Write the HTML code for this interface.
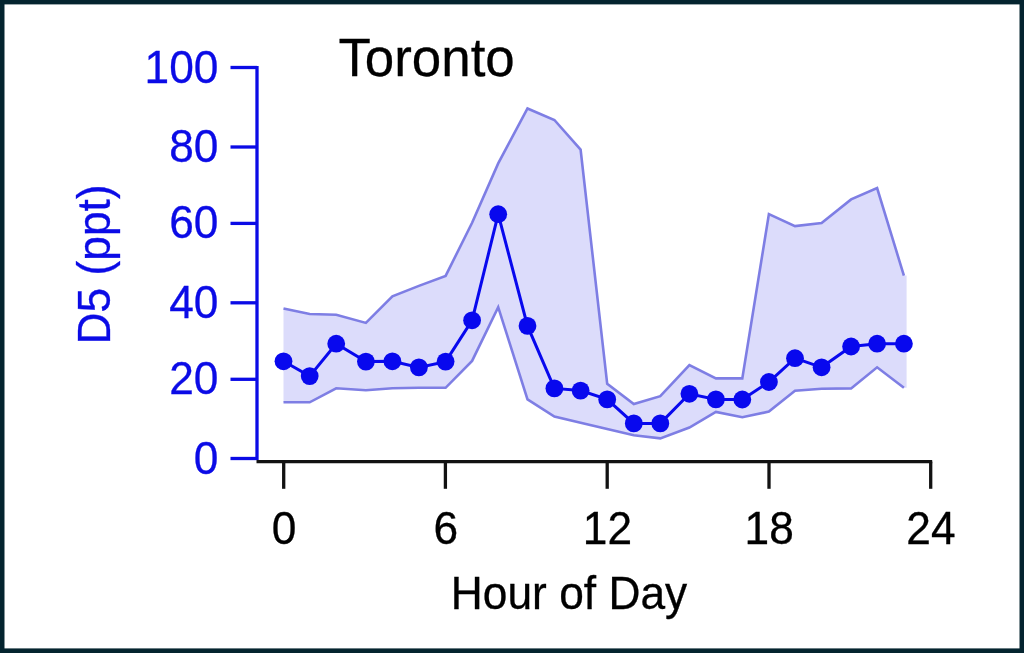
<!DOCTYPE html>
<html lang="en">
<head>
<meta charset="utf-8">
<title>Toronto D5 diurnal profile</title>
<style>
html,body{margin:0;padding:0;background:#04242f;}
body{width:1024px;height:653px;overflow:hidden;position:relative;}
svg{position:absolute;left:0;top:0;display:block;}
svg text{font-family:"Liberation Sans",Arial,Helvetica,sans-serif;stroke-width:0.3px;}
#xlabels text,#titles text{stroke:#000;}
#ylabels text,#ytitle text{stroke:#0b0be6;}
</style>
</head>
<body>
<svg width="1024" height="653" viewBox="0 0 1024 653">
<rect id="frame" x="4.5" y="4.4" width="1015" height="644" fill="#fff"/>
<g id="band">
<polygon points="283.5,308.6 309.7,314.0 336.2,314.7 365.9,322.9 392.4,296.4 418.9,285.9 445.6,275.9 472.1,222.8 498.2,163.4 527.5,108.5 554.4,120.0 580.6,149.6 607.2,383.8 633.8,404.1 660.3,396.2 689.4,365.0 715.9,378.4 742.3,378.4 768.9,214.1 795.0,226.1 821.6,223.0 851.1,199.4 877.1,188.0 903.9,275.6 906.6,275.6 906.6,387.8 903.9,387.8 877.1,367.3 851.1,388.4 821.6,388.8 795.0,390.8 768.9,411.6 742.3,417.2 715.9,411.9 689.4,427.5 660.3,438.4 633.8,435.3 607.2,429.0 580.6,422.8 554.4,416.6 527.5,399.4 498.2,307.2 472.1,360.9 445.6,387.8 418.9,387.8 392.4,388.3 365.9,390.2 336.2,388.3 309.7,402.3 283.5,402.3" fill="#dcdcfb"/>
<polyline points="283.5,308.6 309.7,314.0 336.2,314.7 365.9,322.9 392.4,296.4 418.9,285.9 445.6,275.9 472.1,222.8 498.2,163.4 527.5,108.5 554.4,120.0 580.6,149.6 607.2,383.8 633.8,404.1 660.3,396.2 689.4,365.0 715.9,378.4 742.3,378.4 768.9,214.1 795.0,226.1 821.6,223.0 851.1,199.4 877.1,188.0 903.9,275.6" fill="none" stroke="#7e7ee4" stroke-width="2.6" stroke-linejoin="miter"/>
<polyline points="283.5,402.3 309.7,402.3 336.2,388.3 365.9,390.2 392.4,388.3 418.9,387.8 445.6,387.8 472.1,360.9 498.2,307.2 527.5,399.4 554.4,416.6 580.6,422.8 607.2,429.0 633.8,435.3 660.3,438.4 689.4,427.5 715.9,411.9 742.3,417.2 768.9,411.6 795.0,390.8 821.6,388.8 851.1,388.4 877.1,367.3 903.9,387.8" fill="none" stroke="#7e7ee4" stroke-width="2.6" stroke-linejoin="miter"/>
</g>
<g id="series" fill="#0808ee">
<polyline points="283.5,361.3 309.7,376.1 336.2,343.7 365.9,361.6 392.4,361.3 418.9,367.4 445.6,361.6 472.1,320.3 498.2,214.2 527.5,325.9 554.4,388.4 580.6,390.6 607.2,399.4 633.8,423.4 660.3,423.4 689.4,393.8 715.9,399.4 742.3,399.5 768.9,382.0 795.0,358.2 821.6,367.3 851.1,346.5 877.1,343.7 903.9,343.7" fill="none" stroke="#0808ee" stroke-width="3"/>
<circle cx="283.5" cy="361.3" r="8.9"/>
<circle cx="309.7" cy="376.1" r="8.9"/>
<circle cx="336.2" cy="343.7" r="8.9"/>
<circle cx="365.9" cy="361.6" r="8.9"/>
<circle cx="392.4" cy="361.3" r="8.9"/>
<circle cx="418.9" cy="367.4" r="8.9"/>
<circle cx="445.6" cy="361.6" r="8.9"/>
<circle cx="472.1" cy="320.3" r="8.9"/>
<circle cx="498.2" cy="214.2" r="8.9"/>
<circle cx="527.5" cy="325.9" r="8.9"/>
<circle cx="554.4" cy="388.4" r="8.9"/>
<circle cx="580.6" cy="390.6" r="8.9"/>
<circle cx="607.2" cy="399.4" r="8.9"/>
<circle cx="633.8" cy="423.4" r="8.9"/>
<circle cx="660.3" cy="423.4" r="8.9"/>
<circle cx="689.4" cy="393.8" r="8.9"/>
<circle cx="715.9" cy="399.4" r="8.9"/>
<circle cx="742.3" cy="399.5" r="8.9"/>
<circle cx="768.9" cy="382.0" r="8.9"/>
<circle cx="795.0" cy="358.2" r="8.9"/>
<circle cx="821.6" cy="367.3" r="8.9"/>
<circle cx="851.1" cy="346.5" r="8.9"/>
<circle cx="877.1" cy="343.7" r="8.9"/>
<circle cx="903.9" cy="343.7" r="8.9"/>
</g>
<g id="yaxis" stroke="#0b0be6" stroke-width="3.3" fill="none">
<line x1="257" y1="66" x2="257" y2="460"/>
<line x1="230.5" y1="458.5" x2="257" y2="458.5"/>
<line x1="230.5" y1="379.3" x2="257" y2="379.3"/>
<line x1="230.5" y1="302.8" x2="257" y2="302.8"/>
<line x1="230.5" y1="223.4" x2="257" y2="223.4"/>
<line x1="230.5" y1="147.0" x2="257" y2="147.0"/>
<line x1="230.5" y1="67.5" x2="257" y2="67.5"/>
</g>
<g id="xaxis" stroke="#121212" stroke-width="3.3" fill="none">
<line x1="256.5" y1="461.6" x2="932.2" y2="461.6"/>
<line x1="283.7" y1="461.6" x2="283.7" y2="488.8"/>
<line x1="445.4" y1="461.6" x2="445.4" y2="488.8"/>
<line x1="607.2" y1="461.6" x2="607.2" y2="488.8"/>
<line x1="769.0" y1="461.6" x2="769.0" y2="488.8"/>
<line x1="930.7" y1="461.6" x2="930.7" y2="488.8"/>
</g>
<g id="ylabels" fill="#0b0be6">
<text transform="translate(218.4,473.5) scale(1,1.025)" font-size="44.3" text-anchor="end">0</text>
<text transform="translate(218.4,394.3) scale(1,1.025)" font-size="44.3" text-anchor="end">20</text>
<text transform="translate(218.4,317.8) scale(1,1.025)" font-size="44.3" text-anchor="end">40</text>
<text transform="translate(218.4,238.4) scale(1,1.025)" font-size="44.3" text-anchor="end">60</text>
<text transform="translate(218.4,162.0) scale(1,1.025)" font-size="44.3" text-anchor="end">80</text>
<text transform="translate(218.4,82.5) scale(1,1.025)" font-size="44.3" text-anchor="end">100</text>
</g>
<g id="xlabels" fill="#000">
<text transform="translate(284.0,544.0) scale(1,1.025)" font-size="44.3" text-anchor="middle">0</text>
<text transform="translate(445.8,544.0) scale(1,1.025)" font-size="44.3" text-anchor="middle">6</text>
<text transform="translate(607.5,544.0) scale(1,1.025)" font-size="44.3" text-anchor="middle">12</text>
<text transform="translate(769.2,544.0) scale(1,1.025)" font-size="44.3" text-anchor="middle">18</text>
<text transform="translate(931.0,544.0) scale(1,1.025)" font-size="44.3" text-anchor="middle">24</text>
</g>
<g id="titles" fill="#000">
<text transform="translate(338.4,76.4) scale(1,1.025)" font-size="52.9" text-anchor="start">Toronto</text>
<text transform="translate(569.0,609.4) scale(1,1.025)" font-size="44.3" text-anchor="middle">Hour of Day</text>
</g>
<g id="ytitle" fill="#0b0be6">
<text transform="translate(110.3,264.4) rotate(-90) scale(1,1.025)" font-size="44.3" text-anchor="middle">D5 (ppt)</text>
</g>
</svg>
</body>
</html>
